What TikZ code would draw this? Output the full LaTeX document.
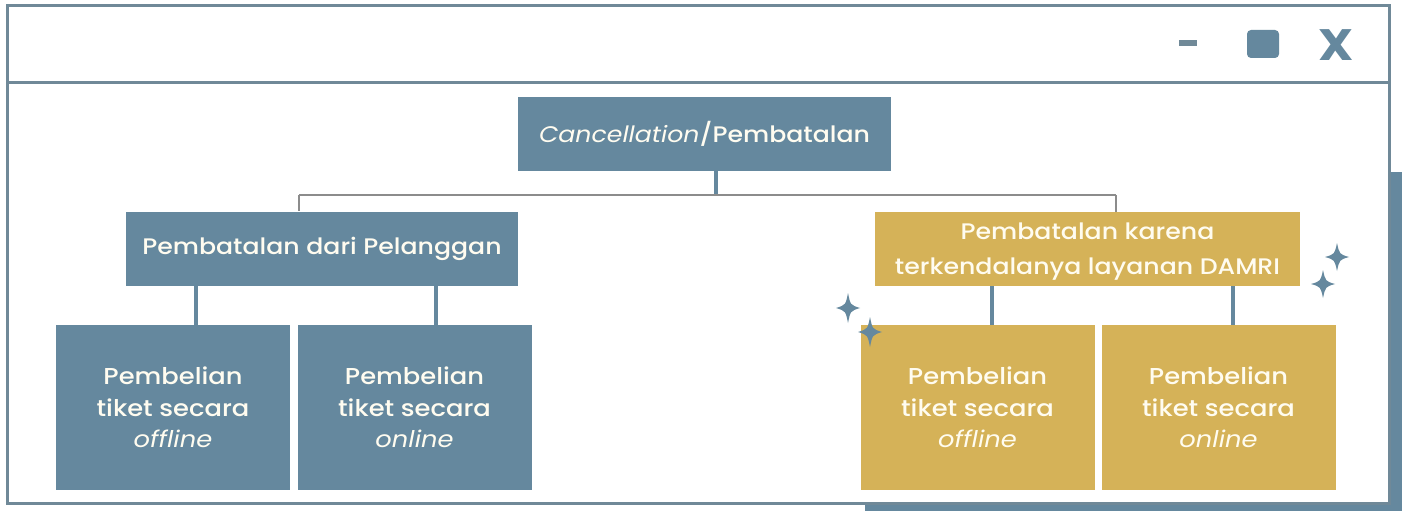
\documentclass[tikz,border=0pt]{standalone}
\usepackage{fontspec}
\setmainfont{Poppins Medium}[FakeStretch=1.12, ItalicFont={Poppins Italic}, BoldFont={Poppins Bold}]
\definecolor{steel}{RGB}{101,136,158}
\definecolor{gold}{RGB}{213,178,88}
\definecolor{frame}{RGB}{112,137,152}
\definecolor{conn}{RGB}{140,140,140}
\definecolor{txt}{RGB}{255,252,240}
\tikzset{
  box/.style={rectangle, inner sep=0pt, text=txt, align=center},
  bluebox/.style={box, fill=steel},
  goldbox/.style={box, fill=gold},
  leaf/.style={minimum width=234pt, minimum height=165pt, font=\fontsize{23}{31.5}\selectfont},
  mid/.style={minimum height=74pt, font=\fontsize{22.5}{35}\selectfont},
  thick conn/.style={draw=steel, line width=4pt},
  thin conn/.style={draw=conn, line width=2pt},
  sparkle/.pic={\fill[steel] (0,-1) .. controls (0.2,-0.2) .. (1,0) .. controls (0.2,0.2) .. (0,1) .. controls (-0.2,0.2) .. (-1,0) .. controls (-0.2,-0.2) .. (0,-1) -- cycle;}
}
\begin{document}
\begin{tikzpicture}[x=1pt,y=-1pt]
\useasboundingbox (0,0) rectangle (1402,511);
\fill[white] (0,0) rectangle (1402,511);
% shadow
\fill[steel] (1389,172) rectangle (1402,511);
\fill[steel] (865,503) rectangle (1402,511);
% window frame
\draw[frame, line width=3pt, fill=white] (7,6) rectangle (1389,503);
\draw[frame, line width=3pt] (7,82) -- (1389,82);
% window buttons
\node[fill=frame, minimum width=18pt, minimum height=6pt, inner sep=0pt] (minb) at (1188,43) {};
\node[fill=steel, rounded corners=4pt, minimum width=32pt, minimum height=28pt, inner sep=0pt] (maxb) at (1263,44) {};
\node[text=steel, font=\fontsize{44}{44}\selectfont\bfseries, inner sep=0pt] (closeb) at (1336,45) {X};
% nodes
\node[bluebox, minimum width=373pt, minimum height=74pt, font=\fontsize{22.5}{26}\selectfont] (top) at (704.5,134) {\textit{Cancellation}/Pembatalan};
\node[bluebox, mid, minimum width=392pt] (lm) at (322,248.5) {Pembatalan dari Pelanggan};
\node[goldbox, mid, minimum width=425pt] (rm) at (1087.5,249) {};
\node[box, font=\fontsize{22.5}{35}\selectfont] (rmtext) at ([yshift=-3pt]rm.center) {Pembatalan karena\\terkendalanya layanan DAMRI};
\node[bluebox, leaf] (b1) at (173,407.5) {Pembelian\\tiket secara\\\textit{offline}};
\node[bluebox, leaf] (b2) at (414.5,407.5) {Pembelian\\tiket secara\\\textit{online}};
\node[goldbox, leaf] (b3) at (977.5,407.5) {Pembelian\\tiket secara\\\textit{offline}};
\node[goldbox, leaf] (b4) at (1218.5,407.5) {Pembelian\\tiket secara\\\textit{online}};
% connectors
\coordinate (hub) at (716,195);
\coordinate (hl) at (299,195);
\coordinate (hr) at (1116,195);
\draw[thick conn] ([xshift=11.5pt]top.south) -- (hub);
\draw[thin conn] (hl) -- (hr);
\draw[thin conn] (hl) -- (hl |- lm.north);
\draw[thin conn] (hr) -- (hr |- rm.north);
\draw[thick conn] ([xshift=23pt]b1.north) -- ([xshift=23pt]b1.north |- lm.south);
\draw[thick conn] ([xshift=21.5pt]b2.north) -- ([xshift=21.5pt]b2.north |- lm.south);
\draw[thick conn] ([xshift=14.5pt]b3.north) -- ([xshift=14.5pt]b3.north |- rm.south);
\draw[thick conn] ([xshift=14.5pt]b4.north) -- ([xshift=14.5pt]b4.north |- rm.south);
% sparkles
\pic[xscale=12, yscale=15] at (848,308) {sparkle};
\pic[xscale=12, yscale=15] at (870,332) {sparkle};
\pic[xscale=12, yscale=14] at (1337,257) {sparkle};
\pic[xscale=12, yscale=14] at (1323,284) {sparkle};
\end{tikzpicture}
\end{document}
